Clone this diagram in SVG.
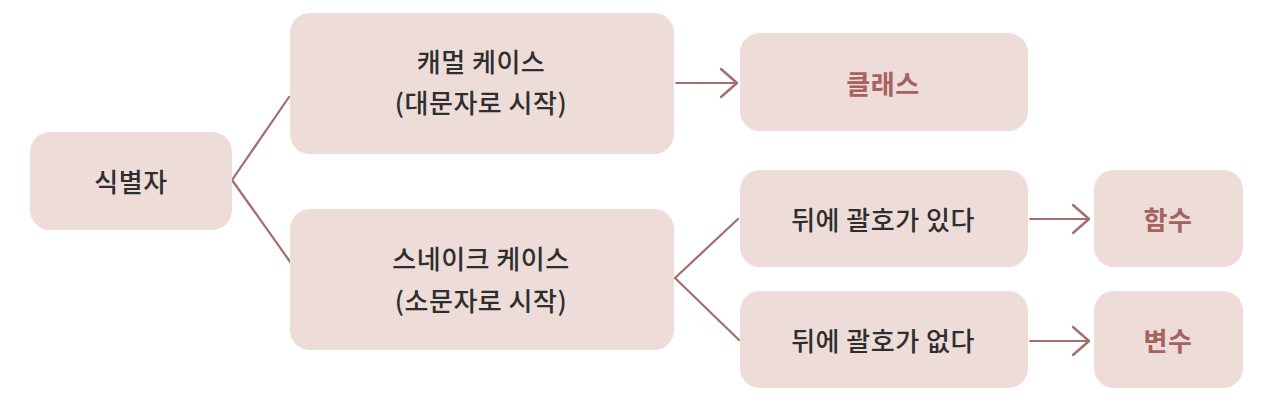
<svg xmlns="http://www.w3.org/2000/svg" width="1270" height="404" viewBox="0 0 1270 404">
<style>
.box{fill:#eddcd8;}
.t{font-family:"Noto Sans CJK KR","Noto Sans",sans-serif;font-size:26px;font-weight:500;fill:#2e2e2e;text-anchor:middle;letter-spacing:0.5px;}
.h{font-weight:bold;fill:#a5625f;}
.ln{fill:none;stroke:#a36e6c;stroke-width:2.2;stroke-linecap:round;stroke-linejoin:round;}
.ar{fill:none;stroke:#a36e6c;stroke-width:1.8;stroke-linecap:round;stroke-dasharray:4 1;}
</style>
<defs>
<marker id="chev" viewBox="0 0 20 32" refX="18" refY="16" markerWidth="20" markerHeight="32" markerUnits="userSpaceOnUse" orient="auto">
<path d="M2 2 L18 16 L2 30" fill="none" stroke="#a36e6c" stroke-width="2.4" stroke-linecap="round" stroke-linejoin="round"/>
</marker>
</defs>
<rect width="1270" height="404" fill="#fff"/>
<g id="connectors">
<path class="ln" d="M289 97 L232 180 L291 263"/>
<path class="ln" d="M738 219 L675 278 L739 340"/>
<line class="ar" x1="676" y1="83" x2="737" y2="83" marker-end="url(#chev)"/>
<line class="ar" x1="1030" y1="219" x2="1089" y2="219" marker-end="url(#chev)"/>
<line class="ar" x1="1030" y1="341" x2="1089" y2="341" marker-end="url(#chev)"/>
</g>
<g id="n-identifier">
<rect class="box" x="30" y="132" width="202" height="98" rx="20"/>
<text class="t" x="131" y="192">식별자</text>
</g>
<g id="n-camel">
<rect class="box" x="290" y="13" width="384" height="141" rx="20"/>
<text class="t" x="481" y="72">캐멀 케이스</text>
<text class="t" x="481" y="113">(대문자로 시작)</text>
</g>
<g id="n-snake">
<rect class="box" x="290" y="209" width="384" height="141" rx="20"/>
<text class="t" x="481" y="269">스네이크 케이스</text>
<text class="t" x="481" y="311">(소문자로 시작)</text>
</g>
<g id="n-class">
<rect class="box" x="740" y="33" width="288" height="98" rx="20"/>
<text class="t h" x="883" y="94">클래스</text>
</g>
<g id="n-paren-yes">
<rect class="box" x="740" y="170" width="288" height="97" rx="20"/>
<text class="t" x="883" y="230">뒤에 괄호가 있다</text>
</g>
<g id="n-paren-no">
<rect class="box" x="740" y="291" width="288" height="97" rx="20"/>
<text class="t" x="883" y="351">뒤에 괄호가 없다</text>
</g>
<g id="n-function">
<rect class="box" x="1094" y="170" width="149" height="97" rx="20"/>
<text class="t h" x="1168" y="230">함수</text>
</g>
<g id="n-variable">
<rect class="box" x="1094" y="291" width="149" height="97" rx="20"/>
<text class="t h" x="1168" y="351">변수</text>
</g>
</svg>
